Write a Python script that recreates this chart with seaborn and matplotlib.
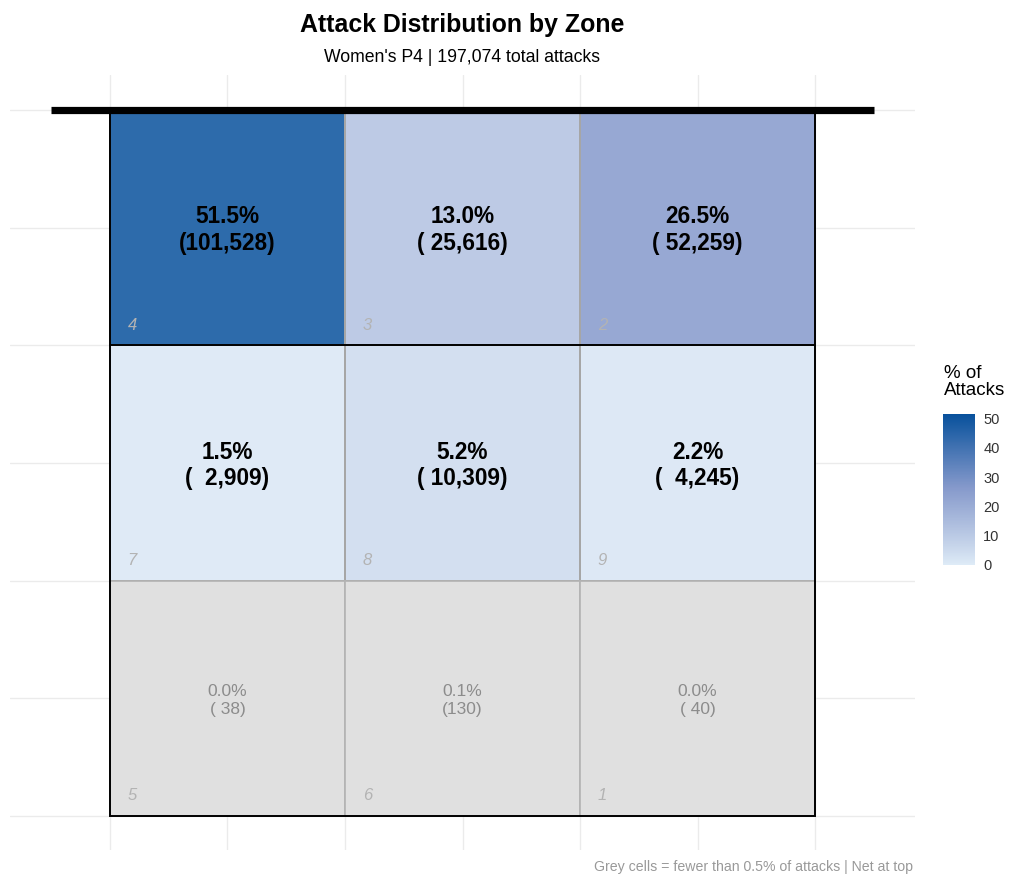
import numpy as np
import seaborn as sns
import matplotlib
matplotlib.use("Agg")
import matplotlib.pyplot as plt
from matplotlib.colors import LinearSegmentedColormap, ListedColormap, Normalize
from matplotlib.cm import ScalarMappable
from matplotlib.patches import Rectangle

# court layout as seen from behind, net at top (row 0 = front row)
zones = [[4, 3, 2],
         [7, 8, 9],
         [5, 6, 1]]
attacks = [[101528, 25616, 52259],
           [2909, 10309, 4245],
           [38, 130, 40]]
grey_cutoff = 0.5
cbar_ticks = [0, 10, 20, 30, 40, 50]

title = "Attack Distribution by Zone"
subtitle_prefix = "Women's P4"
caption = "Grey cells = fewer than 0.5% of attacks | Net at top"
legend_title = "% of\nAttacks"

sns.set_style("white")
plt.rcParams['font.family'] = ['Liberation Sans', 'DejaVu Sans']
plt.rcParams['text.color'] = 'black'

counts = np.array(attacks)
total = counts.sum()
pct = counts / total * 100
low = pct < grey_cutoff

# labels padded like R's format(big.mark=",")
w_hi = max(len(f"{c:,}") for c in counts[~low])
w_lo = max(len(f"{c:,}") for c in counts[low])
labels = np.empty(counts.shape, dtype=object)
for i in range(counts.shape[0]):
    for j in range(counts.shape[1]):
        w = w_lo if low[i, j] else w_hi
        labels[i, j] = f"{pct[i, j]:.1f}%\n({counts[i, j]:>{w},})"

# blues gradient, tiles drawn at alpha .85 over white
cmap_full = LinearSegmentedColormap.from_list(
    "court_blues",
    [(0, "#deebf7"), (0.10, "#cbd9ed"), (0.25, "#b1c1e0"),
     (0.515, "#8599cb"), (1, "#08519c")])
cmap_cells = ListedColormap(cmap_full(np.linspace(0, 1, 256))[:, :3] * 0.85 + 0.15)

fig = plt.figure(figsize=(10.24, 8.91), dpi=100)
ax = fig.add_axes([10/1024, 41/891, 905/1024, 775/891])
cax = fig.add_axes([943/1024, 326/891, 32/1024, 151/891])

sns.heatmap(pct, mask=low, cmap=cmap_cells, vmin=0, vmax=pct.max(),
            annot=labels, fmt="",
            annot_kws=dict(color="black", weight="bold", size=16.3, linespacing=1.2),
            linewidths=1.2, linecolor="#a6a6a6", cbar=False, ax=ax)
# nudge the value labels down a touch
for t in ax.texts:
    x0, y0 = t.get_position()
    t.set_position((x0, y0 + 0.01))

ax.set_xlim(-0.425, 3.425)
ax.set_ylim(3.145, -0.15)
ax.set_xticks(np.arange(0, 3.01, 0.5))
ax.set_yticks(np.arange(0, 3.01, 0.5))
ax.set_xticklabels([])
ax.set_yticklabels([])
ax.tick_params(length=0)
ax.set_axisbelow(True)
ax.grid(True, color="#ebebeb", lw=1.0)
for s in ax.spines.values():
    s.set_visible(False)

for i in range(counts.shape[0]):
    for j in range(counts.shape[1]):
        if low[i, j]:
            ax.add_patch(Rectangle((j, i), 1, 1, fc="#e0e0e0", ec="#b3b3b3",
                                   lw=1.2, zorder=1))
            ax.text(j + 0.5, i + 0.51, labels[i, j], ha="center", va="center",
                    color="#8c8c8c", size=12.5, linespacing=1.2)
        ax.text(j + 0.095, i + 0.915, str(zones[i][j]), style="italic",
                color="#b3b3b3", size=12, ha="center", va="center")

# attack line, court outline, net
ax.plot([0, 3], [1, 1], color="black", lw=1.4, zorder=4)
ax.add_patch(Rectangle((0, 0), 3, 3, fill=False, ec="black", lw=1.4, zorder=4))
ax.plot([-0.25, 3.25], [0, 0], color="black", lw=5.2,
        solid_capstyle="butt", zorder=5)

cb = fig.colorbar(ScalarMappable(norm=Normalize(0, pct.max()), cmap=cmap_full),
                  cax=cax, ticks=cbar_ticks)
cb.outline.set_visible(False)
cax.tick_params(color="white", labelcolor="#333333", direction="in",
                length=4, width=1, labelsize=10.5, left=True, right=True, pad=6)
fig.text(944/1024, 1 - 382/891, legend_title, ha="left", va="center",
         size=13.5, linespacing=1.05)

fig.text(462/1024, 1 - 25/891, title, ha="center", va="center",
         weight="bold", size=17.9)
fig.text(462/1024, 1 - 57/891, f"{subtitle_prefix} | {total:,} total attacks",
         ha="center", va="center", size=12.7)
fig.text(913/1024, 1 - 867/891, caption, ha="right", va="center",
         size=10.2, color="#999999")

fig.savefig("out.png", dpi=100)
